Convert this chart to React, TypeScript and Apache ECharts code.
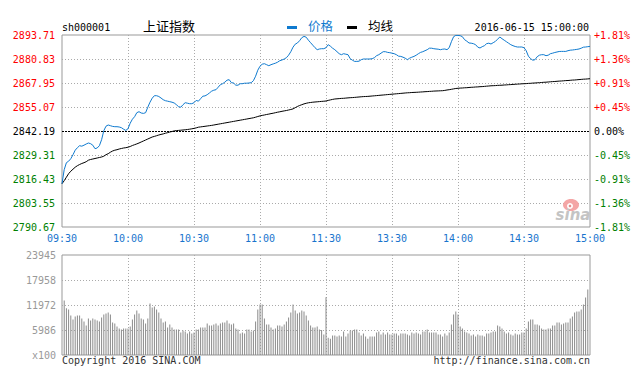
import React, { useEffect, useRef } from "react";
import * as echarts from "echarts";

const PRE_CLOSE = 2842.19;
const PRICE_MIN = 2790.67;
const PRICE_MAX = 2893.71;
const PRICE_STEP = 12.88;
const VOLUME_MAX = 23945;
const timeLabels = ["09:30", "10:00", "10:30", "11:00", "11:30", "13:30", "14:00", "14:30", "15:00"];

// minute index 0 (09:30) .. 240 (15:00); 120 = 11:30/13:00
const priceValues = [
  2813.91, 2821.42, 2825.18, 2825.98, 2827.33, 2829.47, 2831.89, 2833.23, 2834.3, 2834.04,
  2834.57, 2835.21, 2835.75, 2835.38, 2834.57, 2832.69, 2833.07, 2834.3, 2837.52, 2842.35,
  2844.77, 2845.41, 2845.04, 2844.66, 2844.5, 2844.5, 2844.34, 2843.96, 2843.16, 2842.51,
  2843.42, 2846.37, 2848.52, 2849.87, 2852.01, 2852.55, 2851.85, 2851.64, 2852.01, 2854.96,
  2857.65, 2859.79, 2861.14, 2861.14, 2860.71, 2859.9, 2858.99, 2858.45, 2858.19, 2857.92,
  2857.65, 2857.22, 2856.31, 2855.23, 2854.96, 2856.31, 2857.38, 2857.11, 2856.84, 2856.84,
  2857.38, 2858.61, 2858.19, 2859.53, 2860.87, 2861.03, 2861.67, 2862.59, 2863.55, 2864.09,
  2864.36, 2865.7, 2867.04, 2867.58, 2868.38, 2869.46, 2869.73, 2868.11, 2867.95, 2866.77,
  2866.77, 2867.58, 2867.58, 2867.84, 2867.84, 2867.95, 2868.11, 2869.19, 2871.6, 2874.82,
  2876.97, 2878.04, 2878.31, 2877.77, 2877.24, 2877.77, 2878.2, 2878.58, 2879.12, 2879.92,
  2880.3, 2880.83, 2881.53, 2882.87, 2884.75, 2887.17, 2888.78, 2889.42, 2890.66, 2892.27,
  2892.96, 2892.53, 2890.92, 2889.58, 2888.24, 2886.9, 2885.82, 2886.2, 2886.36, 2886.36,
  2886.9,
  2888.51, 2887.7, 2886.63, 2885.82, 2884.75, 2883.68, 2883.14, 2883.68, 2883.41, 2883.14,
  2881.0, 2880.19, 2879.54, 2879.54, 2879.65, 2880.46, 2880.83, 2880.83, 2880.83, 2880.83,
  2881.0, 2881.53, 2882.61, 2883.14, 2883.95, 2884.75, 2884.75, 2884.38, 2884.22, 2883.95,
  2883.68, 2883.14, 2882.34, 2882.23, 2881.8, 2881.26, 2880.46, 2881.26, 2881.8, 2882.23,
  2882.87, 2883.68, 2884.38, 2884.75, 2885.29, 2885.82, 2886.63, 2886.63, 2886.36, 2886.2,
  2886.09, 2885.82, 2886.09, 2886.2, 2885.82, 2886.9, 2890.12, 2892.8, 2893.5, 2893.5,
  2893.34, 2892.8, 2891.19, 2890.39, 2889.42, 2889.31, 2889.05, 2888.51, 2887.17, 2886.74,
  2887.44, 2887.97, 2889.05, 2889.31, 2888.88, 2889.58, 2890.28, 2891.46, 2892.64, 2891.73,
  2890.92, 2890.12, 2889.31, 2888.51, 2887.97, 2887.54, 2887.27, 2887.27, 2887.27, 2886.9,
  2885.29, 2882.34, 2881.0, 2880.19, 2880.46, 2882.07, 2882.87, 2883.14, 2883.14, 2882.61,
  2882.87, 2883.68, 2883.95, 2884.32, 2884.59, 2884.86, 2884.91, 2884.91, 2884.91, 2885.29,
  2885.56, 2885.66, 2885.82, 2885.99, 2886.2, 2886.63, 2887.17, 2887.27, 2887.44, 2887.6,
];

const avgValues = [
  2813.91, 2815.52, 2817.4, 2819.27, 2820.62, 2821.69, 2822.76, 2823.57, 2824.21, 2824.75,
  2825.18, 2825.71, 2826.52, 2826.9, 2827.16, 2827.43, 2827.7, 2827.97, 2828.24, 2828.67,
  2829.47, 2830.01, 2830.81, 2831.46, 2831.89, 2832.15, 2832.53, 2832.8, 2833.07, 2833.23,
  2833.5, 2833.87, 2834.41, 2834.84, 2835.27, 2835.75, 2836.29, 2836.82, 2837.36, 2837.9,
  2838.43, 2838.97, 2839.29, 2839.67, 2840.04, 2840.37, 2840.63, 2841.01, 2841.28, 2841.65,
  2841.92, 2842.25, 2842.41, 2842.51, 2842.62, 2842.73, 2842.84, 2843.0, 2843.16, 2843.37,
  2843.59, 2843.86, 2844.23, 2844.39, 2844.55, 2844.71, 2844.88, 2845.04, 2845.2, 2845.41,
  2845.63, 2845.84, 2846.06, 2846.27, 2846.49, 2846.7, 2846.91, 2847.13, 2847.34, 2847.56,
  2847.77, 2847.99, 2848.2, 2848.42, 2848.63, 2848.85, 2849.06, 2849.28, 2849.6, 2849.97,
  2850.3, 2850.56, 2850.78, 2851.05, 2851.26, 2851.53, 2851.74, 2852.01, 2852.28, 2852.5,
  2852.76, 2852.98, 2853.19, 2853.46, 2853.73, 2854.05, 2854.7, 2855.34, 2855.88, 2856.31,
  2856.74, 2857.06, 2857.33, 2857.49, 2857.65, 2857.76, 2857.86, 2857.97, 2858.08, 2858.18,
  2858.29,
  2858.61, 2858.88, 2859.15, 2859.37, 2859.47, 2859.58, 2859.69, 2859.74, 2859.85, 2859.96,
  2860.06, 2860.12, 2860.22, 2860.33, 2860.44, 2860.55, 2860.65, 2860.71, 2860.76, 2860.87,
  2860.98, 2861.08, 2861.19, 2861.3, 2861.41, 2861.51, 2861.62, 2861.73, 2861.84, 2861.94,
  2862.05, 2862.16, 2862.26, 2862.37, 2862.48, 2862.59, 2862.69, 2862.75, 2862.85, 2862.91,
  2862.96, 2863.02, 2863.12, 2863.18, 2863.28, 2863.34, 2863.44, 2863.5, 2863.61, 2863.66,
  2863.71, 2863.77, 2863.82, 2863.98, 2864.2, 2864.36, 2864.57, 2864.79, 2865.0, 2865.11,
  2865.22, 2865.27, 2865.38, 2865.43, 2865.54, 2865.65, 2865.7, 2865.81, 2865.86, 2865.97,
  2866.02, 2866.13, 2866.24, 2866.34, 2866.45, 2866.5, 2866.56, 2866.67, 2866.72, 2866.77,
  2866.88, 2866.93, 2867.04, 2867.09, 2867.2, 2867.26, 2867.36, 2867.42, 2867.52, 2867.58,
  2867.63, 2867.74, 2867.79, 2867.9, 2867.95, 2868.06, 2868.11, 2868.22, 2868.33, 2868.38,
  2868.49, 2868.6, 2868.7, 2868.76, 2868.87, 2868.97, 2869.03, 2869.13, 2869.24, 2869.29,
  2869.4, 2869.51, 2869.56, 2869.67, 2869.78, 2869.88, 2869.99, 2870.05, 2870.15, 2870.26,
];

// volume (x100), minute index 1 .. 239
const volumeValues = [
  13040, 11200, 10880, 9440, 8480, 9200, 9440, 9440, 8720, 8000,
  7040, 8720, 8240, 8720, 8480, 8240, 8000, 8960, 9680, 9920,
  10160, 9680, 7760, 7520, 6800, 6320, 6080, 6320, 6320, 6320,
  6800, 8480, 9680, 10640, 9920, 8720, 8480, 7520, 8720, 12320,
  11360, 11600, 10880, 10160, 8720, 7760, 8000, 6560, 7280, 6560,
  6080, 6080, 6080, 5360, 5840, 5600, 5120, 5600, 5120, 5360,
  6080, 6080, 6560, 6560, 6560, 7520, 7040, 7040, 7280, 7520,
  7040, 7520, 7760, 7760, 8240, 7520, 7280, 7520, 6320, 6080,
  5120, 5360, 5120, 6080, 6080, 5600, 5840, 8000, 10880, 12080,
  12080, 8720, 7280, 7280, 6560, 6080, 6320, 7040, 7040, 6800,
  7280, 8000, 8960, 10160, 12080, 10640, 9920, 10160, 10640, 10400,
  9440, 8240, 7040, 6560, 6560, 6800, 6080, 6000, 4880, 13840,
  4160, 3920, 4640, 4640, 4400, 4640, 4400, 5600, 4400, 5120,
  5840, 5840, 6080, 6080, 5360, 4640, 5120, 4400, 3920, 4400,
  4400, 4400, 5360, 5600, 4880, 5360, 4880, 5360, 4880, 4880,
  5120, 5120, 4640, 5120, 5120, 5120, 4880, 4640, 5360, 5120,
  5360, 5120, 4880, 5600, 5600, 6080, 5360, 5360, 5360, 5360,
  4880, 4880, 4400, 5120, 4640, 5360, 7280, 9680, 10400, 9680,
  6800, 6320, 5600, 5360, 5120, 4640, 4880, 4400, 4880, 4640,
  4640, 4400, 5120, 5120, 5360, 5600, 5600, 7040, 6800, 6320,
  5600, 5120, 5360, 4880, 4640, 5120, 4880, 4880, 5360, 5360,
  6320, 8000, 8480, 8480, 7280, 7280, 7040, 6320, 6080, 6080,
  6320, 6320, 7040, 7040, 7760, 7760, 7280, 7520, 7760, 7760,
  8720, 9200, 10160, 10400, 10400, 10880, 12080, 13760, 15680,
];

const MONO = "DejaVu Sans Mono, Liberation Mono, monospace";
const CJK = "Noto Sans CJK SC, sans-serif";
const BLUE = "#1874CD";
const LINE_BLUE = "#0F7ACF";
const RED = "#FF0000";
const GREEN = "#008000";

function priceColor(value: any) {
  const v = Number(value);
  if (Math.abs(v - PRE_CLOSE) < 0.005) return "#000";
  return v > PRE_CLOSE ? RED : GREEN;
}

function pctLabel(value: any) {
  const v = Number(value);
  const p = ((v - PRE_CLOSE) / PRE_CLOSE) * 100;
  if (Math.abs(p) < 0.005) return "0.00%";
  return (p > 0 ? "+" : "") + p.toFixed(2) + "%";
}

export default function App() {
  const ref = useRef<HTMLDivElement>(null);
  useEffect(() => {
    document.body.style.margin = "0";
    const chart = echarts.init(ref.current!, undefined, { renderer: "svg" });
    const dotted = { color: "#aaa", type: [1, 2] as any, width: 1 };
    chart.setOption({
      animation: false,
      backgroundColor: "#fff",
      grid: [
        { left: 62, width: 528, top: 35, height: 192, show: true, borderColor: "#999", borderWidth: 1, backgroundColor: "transparent" },
        { left: 62, width: 528, top: 255, height: 100, show: true, borderColor: "#999", borderWidth: 1, backgroundColor: "transparent" },
      ],
      xAxis: [
        {
          type: "value", gridIndex: 0, min: 0, max: 240, interval: 30,
          axisLine: { show: false }, axisTick: { show: false },
          splitLine: { show: true, showMinLine: false, showMaxLine: false, lineStyle: dotted },
          axisLabel: {
            formatter: (v: number) => timeLabels[Math.round(v / 30)] ?? "",
            color: BLUE, fontFamily: MONO, fontSize: 10, margin: 6,
          },
        },
        {
          type: "value", gridIndex: 1, min: 0, max: 240, interval: 30,
          axisLine: { show: false }, axisTick: { show: false }, axisLabel: { show: false },
          splitLine: { show: true, showMinLine: false, showMaxLine: false, lineStyle: dotted },
        },
      ],
      yAxis: [
        {
          type: "value", gridIndex: 0, position: "left", min: PRICE_MIN, max: PRICE_MAX, interval: PRICE_STEP,
          axisLine: { show: false }, axisTick: { show: false },
          splitLine: { show: true, showMinLine: false, showMaxLine: false, lineStyle: dotted },
          axisLabel: {
            formatter: (v: number) => v.toFixed(2),
            color: priceColor, fontFamily: MONO, fontSize: 10, margin: 7,
          },
        },
        {
          type: "value", gridIndex: 0, position: "right", min: PRICE_MIN, max: PRICE_MAX, interval: PRICE_STEP,
          axisLine: { show: false }, axisTick: { show: false }, splitLine: { show: false },
          axisLabel: { formatter: pctLabel, color: priceColor, fontFamily: MONO, fontSize: 10, margin: 4 },
        },
        {
          type: "value", gridIndex: 1, position: "left", min: 0, max: VOLUME_MAX, interval: VOLUME_MAX / 4,
          axisLine: { show: false }, axisTick: { show: false },
          splitLine: { show: true, showMinLine: false, showMaxLine: false, lineStyle: dotted },
          axisLabel: {
            formatter: (v: number) => (v === 0 ? "x100" : String(Math.floor(v + 1e-6))),
            color: "#999", fontFamily: MONO, fontSize: 10, margin: 6,
          },
        },
      ],
      series: [
        {
          name: "均线", type: "line", xAxisIndex: 0, yAxisIndex: 0,
          data: avgValues.map((v, i) => [i, v]),
          symbol: "none", lineStyle: { color: "#000", width: 1 }, z: 3,
        },
        {
          name: "价格", type: "line", xAxisIndex: 0, yAxisIndex: 0,
          data: priceValues.map((v, i) => [i, v]),
          symbol: "none", lineStyle: { color: LINE_BLUE, width: 1 }, z: 4,
          markLine: {
            silent: true, symbol: ["none", "none"], label: { show: false },
            lineStyle: { color: "#000", type: [2, 1], width: 1 },
            data: [{ yAxis: PRE_CLOSE }],
          },
        },
        {
          name: "成交量", type: "bar", xAxisIndex: 1, yAxisIndex: 2,
          data: volumeValues.map((v, i) => [i + 1, v]),
          barWidth: 1, itemStyle: { color: "#8a8a8a" },
        },
      ],
      graphic: [
        { type: "text", left: 62, top: 22, style: { text: "sh000001", font: `10px ${MONO}`, fill: "#000" } },
        { type: "text", left: 143, top: 19, style: { text: "上证指数", font: `13px ${CJK}`, fill: "#000" } },
        { type: "rect", shape: { x: 287, y: 26, width: 10, height: 3 }, style: { fill: LINE_BLUE } },
        { type: "text", left: 308, top: 19, style: { text: "价格", font: `12.5px ${CJK}`, fill: LINE_BLUE } },
        { type: "rect", shape: { x: 347, y: 26, width: 10, height: 3 }, style: { fill: "#000" } },
        { type: "text", left: 368, top: 19, style: { text: "均线", font: `12.5px ${CJK}`, fill: "#000" } },
        { type: "text", right: 49, top: 22, style: { text: "2016-06-15 15:00:00", font: `10px ${MONO}`, fill: "#000" } },
        { type: "text", left: 62, top: 355, style: { text: "Copyright 2016 SINA.COM", font: `10px ${MONO}`, fill: "#333" } },
        { type: "text", right: 48, top: 355, style: { text: "http://finance.sina.com.cn", font: `10px ${MONO}`, fill: "#333" } },
        { type: "ellipse", shape: { cx: 571, cy: 205, rx: 8, ry: 6 }, style: { fill: "#f4a6a6" }, z: 10 },
        { type: "circle", shape: { cx: 570, cy: 206, r: 3 }, style: { fill: "#fff" }, z: 11 },
        { type: "circle", shape: { cx: 570, cy: 206, r: 1.3 }, style: { fill: "#e58b8b" }, z: 12 },
        { type: "text", x: 573, y: 215, style: { text: "sina", font: `italic bold 15px DejaVu Sans, sans-serif`, fill: "#c4c4c4", align: "center", verticalAlign: "middle" }, z: 10 },
      ],
    });
    return () => chart.dispose();
  }, []);
  return <div ref={ref} style={{ width: 638, height: 376, position: "absolute", left: 0, top: 0 }} />;
}
